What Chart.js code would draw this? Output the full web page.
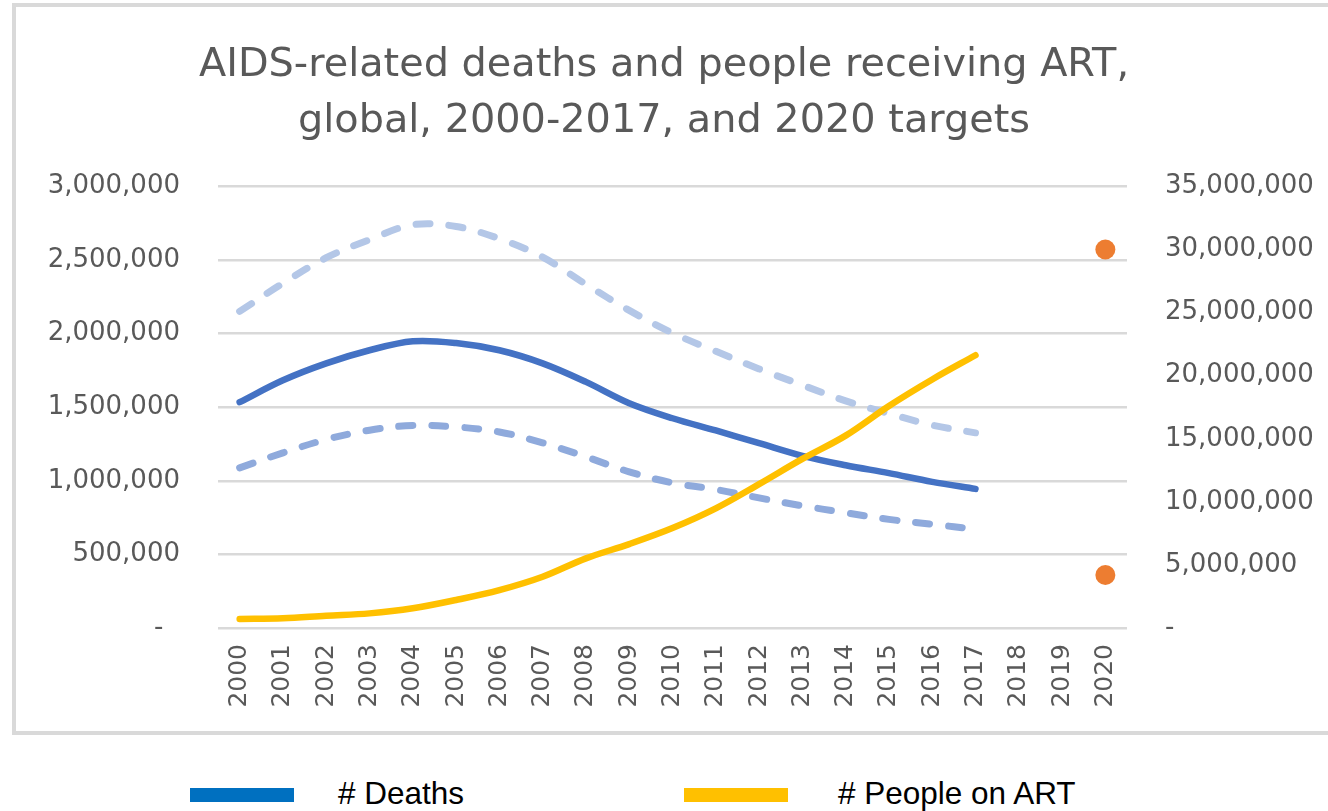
<!DOCTYPE html>
<html>
<head>
<meta charset="utf-8">
<script src="https://cdn.jsdelivr.net/npm/chart.js@4.4.1/dist/chart.umd.min.js"></script>
<style>
  body { margin: 0; width: 1328px; height: 811px; overflow: hidden; background: #fff; position: relative; }
  .marco { position: absolute; left: 12px; top: 3px; width: 1340px; height: 724px; border: 4px solid #d9d9d9; box-sizing: content-box; }
  .grafico { position: absolute; left: 0; top: 0; width: 1328px; height: 735px; }
  .leyenda { position: absolute; top: 772px; left: 0; width: 1328px; height: 40px; font-family: "Liberation Sans", Arial, sans-serif; font-size: 31.5px; color: #000; }
  .leyenda .caja { position: absolute; top: 16px; width: 104px; height: 14px; }
  .leyenda .txt { position: absolute; top: 4px; line-height: 34px; }
</style>
</head>
<body>
<div class="marco"></div>
<div class="grafico"><canvas id="myChart"></canvas></div>
<div class="leyenda">
  <span class="caja" style="left:190px;background:#0070C0"></span><span class="txt" style="left:338px"># Deaths</span>
  <span class="caja" style="left:684px;background:#FFC000"></span><span class="txt" style="left:838px"># People on ART</span>
</div>
<script>
// años y series
const anios = ["2000","2001","2002","2003","2004","2005","2006","2007","2008","2009","2010",
  "2011","2012","2013","2014","2015","2016","2017","2018","2019","2020"];
const muertes = [1534000, 1683000, 1798000, 1887000, 1948000, 1936000, 1887000, 1798000, 1672000, 1527000, 1425000,
  1342000, 1256000, 1170000, 1106000, 1052000, 993000, 945000, null, null, null];
const muertesAlto = [2151000, 2342000, 2516000, 2638000, 2740000, 2728000, 2645000, 2520000, 2335000, 2158000, 2004000,
  1880000, 1760000, 1650000, 1543000, 1457000, 1378000, 1326000, null, null, null];
const muertesBajo = [1088000, 1190000, 1281000, 1344000, 1376000, 1366000, 1332000, 1258000, 1163000, 1061000, 986000,
  941000, 884000, 830000, 783000, 738000, 705000, 671000, null, null, null];
const enTAR = [713000, 768000, 975000, 1160000, 1560000, 2220000, 3000000, 4060000, 5520000, 6650000, 7920000,
  9480000, 11400000, 13400000, 15250000, 17600000, 19700000, 21620000, null, null, null];
const metaTAR = [null, null, null, null, null, null, null, null, null, null, null,
  null, null, null, null, null, null, null, null, null, 30000000];
const metaMuertes = [null, null, null, null, null, null, null, null, null, null, null,
  null, null, null, null, null, null, null, null, null, 360000];

const ticksIzq = [0, 500000, 1000000, 1500000, 2000000, 2500000, 3000000];
const ticksDer = [0, 5000000, 10000000, 15000000, 20000000, 25000000, 30000000, 35000000];

Chart.defaults.font.family = "'DejaVu Sans', sans-serif";
Chart.defaults.color = "#595959";

const linea = (label, data, color, eje, extra) => Object.assign({
  label: label, data: data, yAxisID: eje, borderColor: color, backgroundColor: color,
  borderWidth: 6.5, pointRadius: 0, tension: 0.35, fill: false,
  borderCapStyle: 'round', borderJoinStyle: 'round', spanGaps: false
}, extra || {});

let data = {
  labels: anios,
  datasets: [
    { label: 'Meta TAR 2020', data: metaTAR, yAxisID: 'y1', showLine: false,
      pointRadius: 10, pointHoverRadius: 10, pointBackgroundColor: '#ED7D31', pointBorderWidth: 0, borderColor: '#ED7D31' },
    { label: 'Meta muertes 2020', data: metaMuertes, yAxisID: 'y', showLine: false,
      pointRadius: 10, pointHoverRadius: 10, pointBackgroundColor: '#ED7D31', pointBorderWidth: 0, borderColor: '#ED7D31' },
    linea('# People on ART', enTAR, '#FFC000', 'y1'),
    linea('# Deaths', muertes, '#4472C4', 'y'),
    linea('Deaths lower', muertesBajo, '#8FAADC', 'y', { borderDash: [14, 19], borderWidth: 7 }),
    linea('Deaths upper', muertesAlto, '#B4C7E7', 'y', { borderDash: [14, 19], borderWidth: 7 })
  ]
};

const formato = v => v === 0 ? '-' : v.toLocaleString('en-US');

let config = {
  type: 'line',
  data: data,
  options: {
    responsive: true,
    maintainAspectRatio: false,
    animation: false,
    layout: { padding: 0 },
    plugins: {
      legend: { display: false },
      tooltip: { enabled: false },
      title: {
        display: true,
        text: ['AIDS-related deaths and people receiving ART,', 'global, 2000-2017, and 2020 targets'],
        color: '#595959',
        font: { size: 39.8, weight: 'normal', lineHeight: 1.4 },
        padding: { top: 38, bottom: 37 }
      }
    },
    scales: {
      x: {
        offset: true,
        grid: { display: false, drawTicks: false },
        border: { display: false },
        ticks: { minRotation: 90, maxRotation: 90, padding: 16, font: { size: 25 }, autoSkip: false },
        afterFit: s => { s.height = 107; }
      },
      y: {
        position: 'left',
        min: 0, max: 3000000,
        afterBuildTicks: s => { s.ticks = ticksIzq.map(v => ({ value: v })); },
        grid: { color: '#D9D9D9', lineWidth: 2.5, drawTicks: false },
        border: { display: false },
        ticks: { padding: 38, font: { size: 26 }, callback: v => v === 0 ? '-  ' : formato(v) },
        afterFit: s => { s.width = 218; }
      },
      y1: {
        position: 'right',
        min: 0, max: 35000000,
        afterBuildTicks: s => { s.ticks = ticksDer.map(v => ({ value: v })); },
        grid: { drawOnChartArea: false, drawTicks: false },
        border: { display: false },
        ticks: { padding: 38, font: { size: 26 }, callback: formato },
        afterFit: s => { s.width = 201; }
      }
    }
  }
};

var myChart = new Chart(document.getElementById('myChart'), config);
</script>
</body>
</html>
